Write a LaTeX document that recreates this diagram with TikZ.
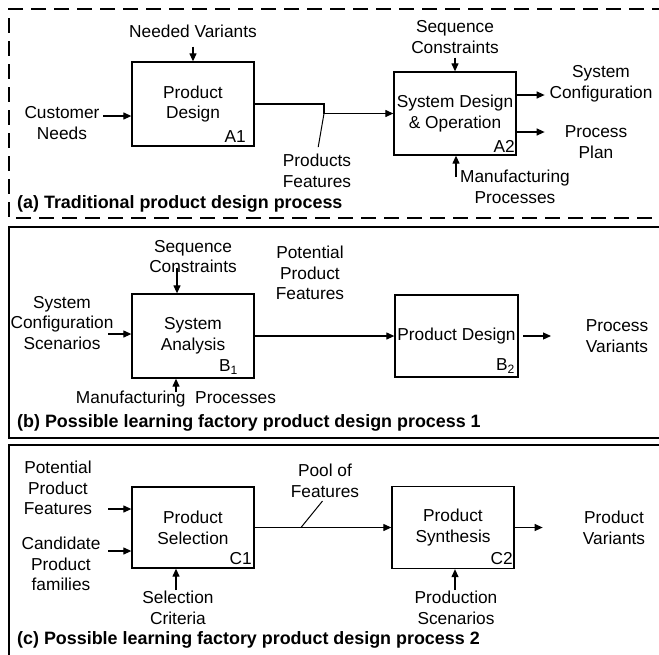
\documentclass[tikz,border=0pt]{standalone}
\usepackage{fontspec}
\setmainfont{Liberation Sans}
\usetikzlibrary{arrows.meta}
\begin{document}
\begin{tikzpicture}[x=1pt,y=-1pt,
  txt/.style={font=\fontsize{17.3}{20.8}\selectfont},
  lbl/.style={txt, inner sep=0pt, align=center},
  proc/.style={txt, draw, line width=1.3pt, inner sep=0pt, align=center,
               minimum width=122pt, minimum height=83pt},
  tag/.style={txt, inner sep=0pt, anchor=east},
  capt/.style={font=\fontsize{17.9}{20.8}\selectfont\bfseries, inner sep=0pt, anchor=west},
  flow/.style={line width=1.2pt, -{Triangle[length=8pt,width=7pt]}},
  tick/.style={line width=1pt},
  frm/.style={line width=2.3pt}]

\useasboundingbox (0,0) rectangle (659,654);
\fill[white] (0,0) rectangle (659,654);
\clip (0,0) rectangle (659,654);

% ---------- panel frames ----------
\draw[frm, dash pattern=on 15pt off 8pt] (690,9) -- (9,9) -- (9,218) -- (690,218);
\draw[frm] (690,227) -- (9,227) -- (9,438) -- (690,438);
\draw[frm] (690,445) -- (9,445) -- (9,690);

% ---------- (a) traditional process ----------
\node[proc, minimum height=84pt] (A1) at (193,104) {Product\\Design};
\node[proc] (A2) at (455,113.5) {System Design\\\& Operation};
\node[tag] at (246,137) {A1};
\node[tag] at (515,146) {A2};

\node[lbl] (nv) at (193,31) {Needed Variants};
\draw[flow, shorten <=9pt] (nv) -- (A1);

\node[lbl] (cn) at (62,123) {Customer\\Needs};
\coordinate (a1in) at (103,116);
\draw[flow] (a1in) -- (a1in -| A1.west);

\node[lbl] (sc) at (455,37) {Sequence\\Constraints};
\draw[flow, shorten <=4pt] (sc) -- (A2);

\node[lbl] (sysc) at (601,84) {System\\Configuration};
\coordinate (a2o1) at (516,95);
\draw[flow] (a2o1 -| A2.east) -- ++(28,0);

\node[lbl] (pp) at (596,142.5) {Process\\Plan};
\coordinate (a2o2) at (516,132);
\draw[flow] (a2o2 -| A2.east) -- ++(28,0);

\node[lbl] (mp) at (515,186.5) {Manufacturing\\Processes};
\coordinate (a2up) at (456,177);
\draw[flow] (a2up) -- (a2up |- A2.south);

\node[lbl] (pf) at (317,171) {Products\\Features};
\coordinate (jog) at (324,113.5);
\draw[flow] (A1.east) -| (jog) -- (A2.west);
\draw[tick, shorten >=7pt] (jog) -- (pf.north);

\node[capt] at (17,204) {(a) Traditional product design process};

% ---------- (b) learning factory process 1 ----------
\node[proc, minimum height=84pt] (B1) at (193,336) {System\\Analysis};
\node[proc, minimum width=123pt, minimum height=82pt] (B2) at (456.5,336) {Product Design};
\node[tag] at (238,367) {B\textsubscript{1}};
\node[tag] at (515,366) {B\textsubscript{2}};

\node[lbl] (sc2) at (193,256.5) {Sequence\\Constraints};
\coordinate (b1dn) at (177,268);
\draw[flow] (b1dn) -- (b1dn |- B1.north);

\node[lbl] (scs) at (62,323) {System\\Configuration\\Scenarios};
\coordinate (b1in) at (108,334);
\draw[flow] (b1in) -- (b1in -| B1.west);

\node[lbl] (mp2) at (176,399) {Manufacturing\ \ Processes};
\coordinate (b1up) at (176,392);
\draw[flow] (b1up) -- (b1up |- B1.south);

\node[lbl] (ppf) at (310,273) {Potential\\Product\\Features};
\draw[flow] (B1.east) -- (B2.west);

\coordinate (b2out) at (523,336);
\draw[flow] (b2out) -- ++(28,0);
\node[lbl] (pv) at (617,336) {Process\\Variants};

\node[capt] at (17,423) {(b) Possible learning factory product design process 1};

% ---------- (c) learning factory process 2 ----------
\node[proc, minimum height=81pt] (C1) at (193,527.5) {Product\\Selection};
\node[proc, minimum height=82pt] (C2) at (453,527.5) {Product\\Synthesis};
\node[tag] at (252,559) {C1};
\node[tag] at (513,559) {C2};

\node[lbl] (ppf2) at (58,488) {Potential\\Product\\Features};
\coordinate (c1in1) at (108,509);
\draw[flow] (c1in1) -- (c1in1 -| C1.west);

\node[lbl] (cpf) at (61,564) {Candidate\\Product\\families};
\coordinate (c1in2) at (108,551);
\draw[flow] (c1in2) -- (c1in2 -| C1.west);

\node[lbl] (selc) at (178,607.5) {Selection\\Criteria};
\coordinate (c1up) at (176,590);
\draw[flow] (c1up) -- (c1up |- C1.south);

\node[lbl] (pof) at (325,481) {Pool of\\Features};
\draw[flow] (C1.east) -- (C2.west);
\coordinate (pool) at (301,527.5);
\draw[tick, shorten >=4pt] (pool) -- (pof.south);

\draw[flow] (C2.east) -- ++(28,0);
\node[lbl] (pvar) at (614,528) {Product\\Variants};

\node[lbl] (prs) at (456,607.5) {Production\\Scenarios};
\coordinate (c2up) at (455,590);
\draw[flow] (c2up) -- (c2up |- C2.south);

\node[capt] at (17,640) {(c) Possible learning factory product design process 2};
\end{tikzpicture}
\end{document}
